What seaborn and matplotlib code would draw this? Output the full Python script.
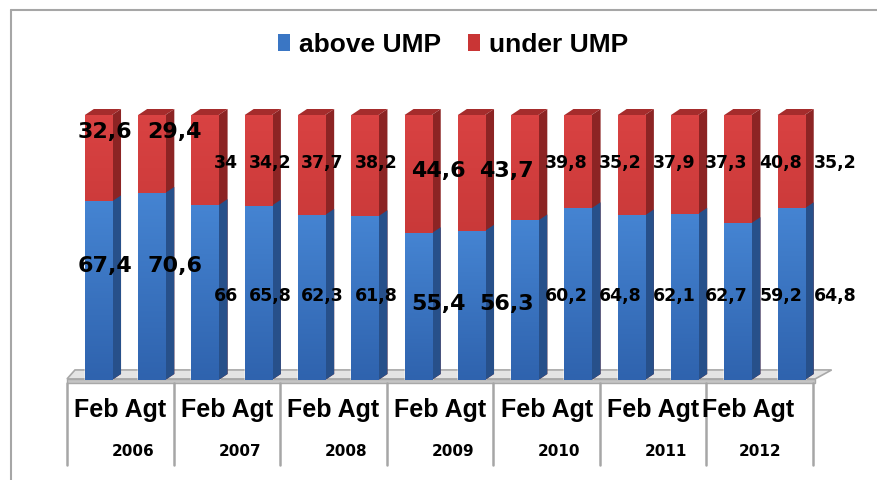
import numpy as np
import pandas as pd
import matplotlib.pyplot as plt
import seaborn as sns
from matplotlib.patches import Polygon, Patch
from matplotlib.colors import LinearSegmentedColormap
from matplotlib.lines import Line2D

# Datos: porcentaje de trabajadores por encima / por debajo del UMP
years = ["2006", "2007", "2008", "2009", "2010", "2011", "2012"]
months = ["Feb", "Agt"]
above = [67.4, 70.6, 66, 65.8, 62.3, 61.8, 55.4, 56.3, 60.2, 64.8, 62.1, 62.7, 59.2, 64.8]
under = [32.6, 29.4, 34, 34.2, 37.7, 38.2, 44.6, 43.7, 39.8, 35.2, 37.9, 37.3, 40.8, 35.2]

df = pd.DataFrame({
    "periode": [f"{m} {y}" for y in years for m in months],
    "above": above,
    "under": under,
})
df["total"] = df["above"] + df["under"]

sns.set_theme(style="white")
plt.rcParams["font.family"] = ["DejaVu Sans"]
plt.rcParams["text.color"] = "black"

blue, red = "#3a76c4", "#c93535"
blue_side, red_side = "#27508a", "#8c2424"
red_top = "#a52c2c"

# Posición de etiquetas (desplazamiento en px respecto al centro de la barra)
lbl_dx = [6.5, 23, 21, 12, 11, 11.5, 20, 35, 42, 42, 43, 42, 43, 44]
big = {0, 1, 6, 7}

fig = plt.figure(figsize=(8.78, 4.8), dpi=100)
ax = fig.add_axes([67 / 878, 100 / 480, 746 / 878, 265 / 480])
sns.barplot(data=df, x="periode", y="total", color=red, width=0.51, saturation=1,
            errorbar=None, ax=ax)
sns.barplot(data=df, x="periode", y="above", color=blue, width=0.51, saturation=1,
            errorbar=None, ax=ax)

px = 53.29  # px por unidad x
py = 2.65   # px por unidad y
dx, dy = 9 / px, 6 / py

cm_blue = LinearSegmentedColormap.from_list("b", ["#2f63ae", "#4584d2"])
cm_red = LinearSegmentedColormap.from_list("r", ["#b52e2e", "#d94242"])
grad = np.linspace(0, 1, 64).reshape(-1, 1)

n = len(df)
for k, p in enumerate(ax.patches):
    x, w = p.get_x(), p.get_width()
    y0, h = p.get_y(), p.get_height()
    is_red = k < n
    side = red_side if is_red else blue_side
    ax.add_patch(Polygon([(x + w, y0), (x + w + dx, y0 + dy), (x + w + dx, y0 + h + dy),
                          (x + w, y0 + h)], closed=True, fc=side, ec="none",
                         zorder=p.get_zorder(), clip_on=False))
    if is_red:
        ax.add_patch(Polygon([(x, y0 + h), (x + dx, y0 + h + dy), (x + w + dx, y0 + h + dy),
                              (x + w, y0 + h)], closed=True, fc=red_top, ec="none",
                             zorder=p.get_zorder(), clip_on=False))
    im = ax.imshow(grad, extent=[x, x + w, y0, y0 + h], origin="lower", aspect="auto",
                   cmap=cm_red if is_red else cm_blue, zorder=p.get_zorder() + 0.01)
    im.set_clip_path(p)

ax.set_xlim(-0.59, 13.41)
ax.set_ylim(0, 100)
ax.axis("off")

# Suelo 3D
ax.add_patch(Polygon([(-0.59, 0.4), (13.45, 0.4), (13.76, 3.8), (-0.44, 3.8)], closed=True,
                     fc="#e4e4e4", ec="#a8a8a8", lw=1.2, zorder=0.5, clip_on=False))
ax.add_patch(Polygon([(-0.59, -1.3), (13.45, -1.3), (13.45, 0.4), (-0.59, 0.4)], closed=True,
                     fc="#c4c4c4", ec="#a8a8a8", lw=1.0, zorder=0.5, clip_on=False))

# Etiquetas de valores
for i in range(n):
    xi = i + lbl_dx[i] / px
    fs = 16 if i in big else 12.5
    if i in (0, 1):
        yu, yl = 93.4, 43
    elif i in (6, 7):
        yu, yl = 79, 28.7
    else:
        yu, yl = 82, 31.7
    ax.text(xi, yu, f"{under[i]:g}".replace(".", ","), ha="center", va="center",
            fontsize=fs, fontweight="bold", color="black", zorder=5)
    ax.text(xi, yl, f"{above[i]:g}".replace(".", ","), ha="center", va="center",
            fontsize=fs, fontweight="bold", color="black", zorder=5)

# Tabla del eje x
for g in range(len(years) + 1):
    xg = -0.59 + 2 * g
    ax.plot([xg, xg], [-1.3, -32.1], color="#a6a6a6", lw=1.8, clip_on=False, zorder=1)
for g, yr in enumerate(years):
    xc = 0.41 + 2 * g
    ax.text(xc if g < len(years) - 1 else xc - 0.22, -11.5, " ".join(months), ha="center",
            va="center", fontsize=18, fontweight="bold", color="black",
            family=["Liberation Sans", "DejaVu Sans"], clip_on=False)
    ax.text(xc + 0.24 if g < len(years) - 1 else xc, -26.8, yr, ha="center", va="center",
            fontsize=11, fontweight="bold", color="black", clip_on=False)

# Leyenda
handles = [Patch(fc=blue, ec="none", label="above UMP"), Patch(fc=red, ec="none", label="under UMP")]
leg = fig.legend(handles=handles, loc="center", bbox_to_anchor=(0.516, 0.906), ncol=2,
                 frameon=False, handlelength=0.45, handleheight=0.6, handletextpad=0.35,
                 columnspacing=1.0,
                 prop={"family": ["Liberation Sans", "DejaVu Sans"], "weight": "bold", "size": 19})
for t in leg.get_texts():
    t.set_color("black")

# Marco del gráfico
fig.add_artist(Line2D([11 / 878, 11 / 878], [0, 1 - 10 / 480], transform=fig.transFigure,
                      color="#a6a6a6", lw=1.5))
fig.add_artist(Line2D([11 / 878, 1], [1 - 10 / 480, 1 - 10 / 480], transform=fig.transFigure,
                      color="#a6a6a6", lw=1.5))

fig.savefig("out.png", dpi=100)
